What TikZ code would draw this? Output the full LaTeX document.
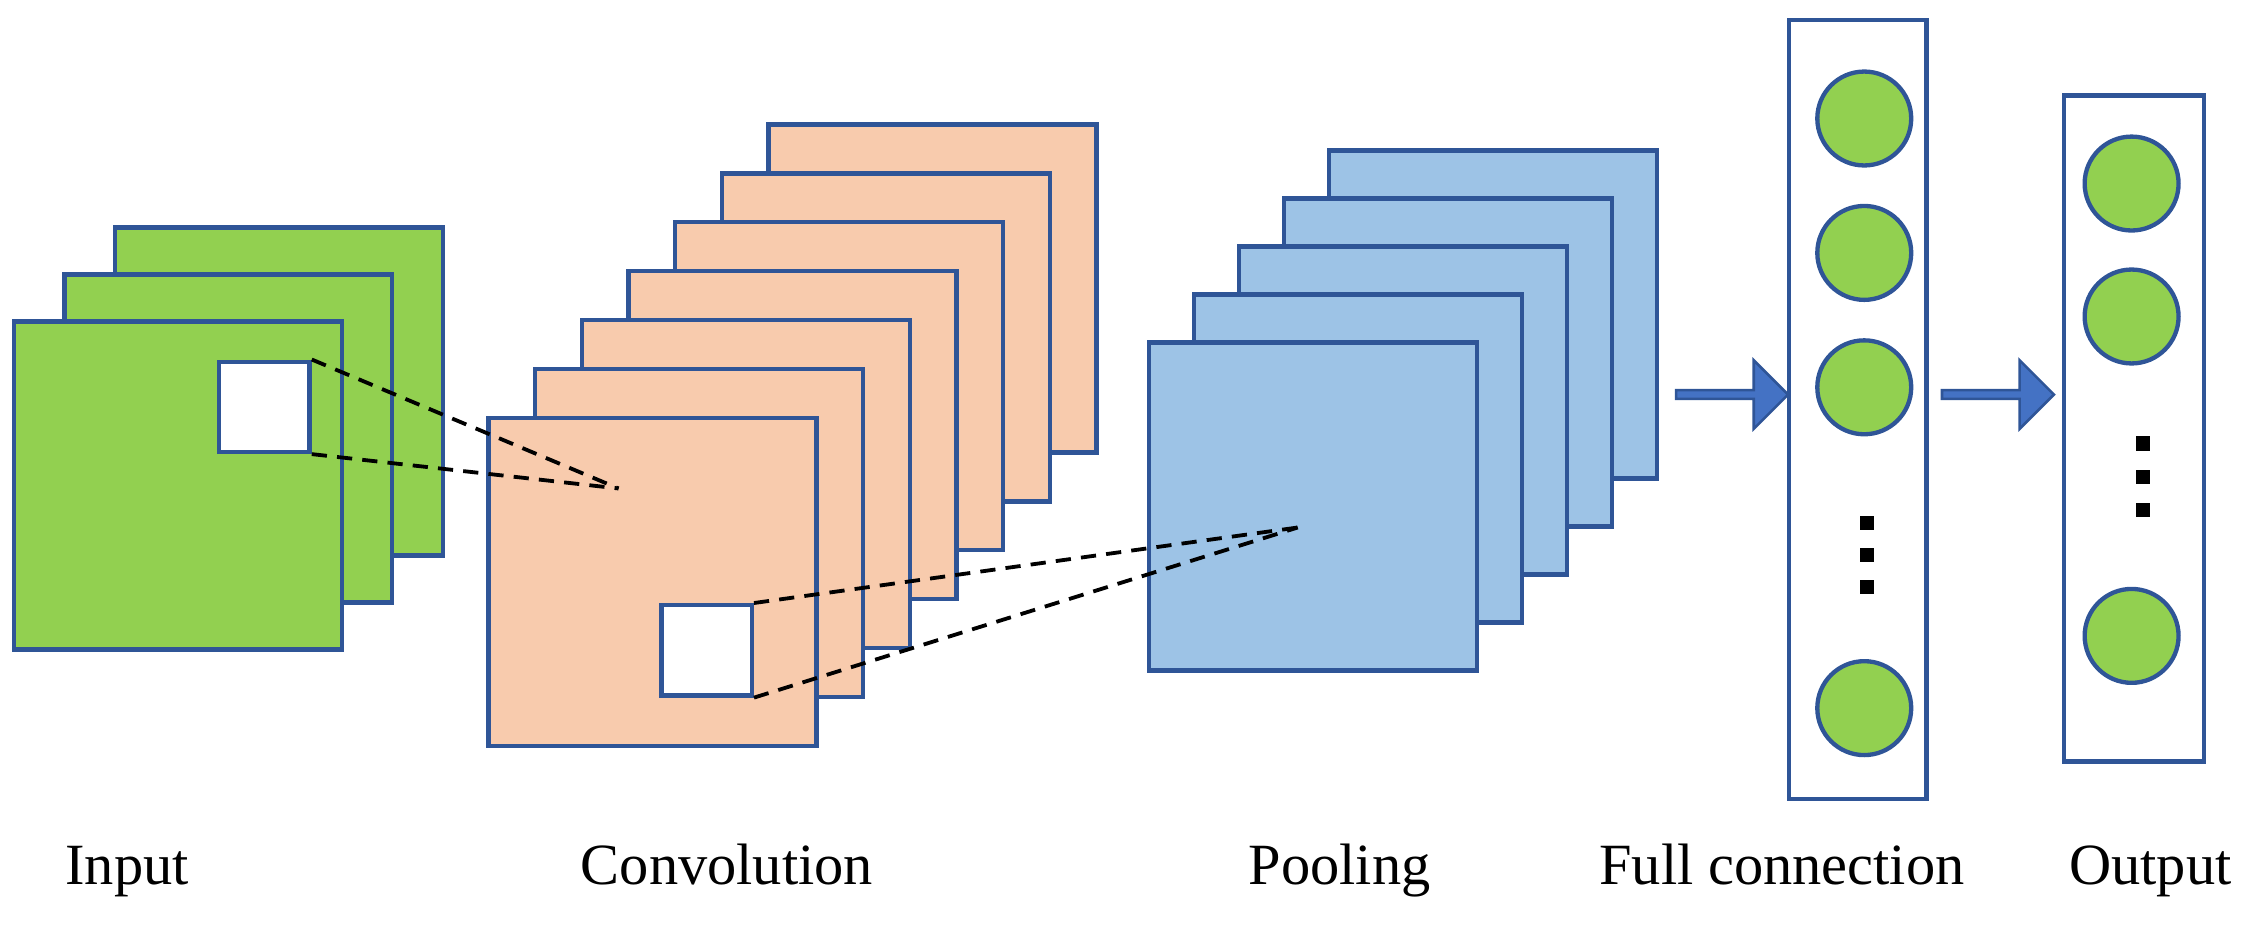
\documentclass[tikz,border=0pt]{standalone}
\usepackage{fontspec}
\setmainfont{Liberation Serif}
\usetikzlibrary{shapes.arrows}
\definecolor{edgeblue}{HTML}{2F5597}
\definecolor{ingreen}{HTML}{92D050}
\definecolor{convpeach}{HTML}{F8CBAD}
\definecolor{poolblue}{HTML}{9DC3E6}
\definecolor{arrowblue}{HTML}{4472C4}
\begin{document}
\begin{tikzpicture}[
    x=0.02cm, y=-0.02cm,
    fmap/.style={rectangle, draw=edgeblue, line width=1.7pt, minimum size=4.54cm, inner sep=0pt},
    win/.style={rectangle, draw=edgeblue, fill=white, line width=1.7pt, minimum size=1.25cm, inner sep=0pt},
    neuron/.style={circle, draw=edgeblue, fill=ingreen, line width=1.7pt, minimum size=1.3cm, inner sep=0pt},
    layer/.style={rectangle, draw=edgeblue, line width=1.7pt, inner sep=0pt},
    fwd/.style={single arrow, draw=edgeblue, fill=arrowblue, line width=1pt, minimum height=1.55cm, minimum width=0.95cm, single arrow head extend=0.12cm, inner sep=0pt},
    lab/.style={font=\fontsize{23}{26}\selectfont, anchor=base},
    rfield/.style={line width=1.5pt, dash pattern=on 6pt off 4pt}
]
\useasboundingbox (0,0) rectangle (1568,646);

% Input maps
\foreach \i in {2,1,0}
  \node[fmap, fill=ingreen] (in\i) at (123+35*\i, 336-32.5*\i) {};
\node[win] (inwin) at (183,281.5) {};

% Convolution maps
\foreach \i in {6,5,...,0}
  \node[fmap, fill=convpeach] (cv\i) at (451.5+32.3*\i, 402.5-33.8*\i) {};
\node[win] (cvwin) at (489,450) {};
\coordinate (cvpt) at (428,338);

% Pooling maps
\foreach \i in {4,3,...,0}
  \node[fmap, fill=poolblue] (pl\i) at (908.5+31.2*\i, 350.5-33.2*\i) {};
\coordinate (plpt) at (898,365);

% Receptive fields
\draw[rfield] (inwin.north east) -- (cvpt);
\draw[rfield] (inwin.south east) -- (cvpt);
\draw[rfield] (cvwin.north east) -- (plpt);
\draw[rfield] (cvwin.south east) -- (plpt);

% Full connection
\node[layer, minimum width=1.9cm, minimum height=10.78cm] (fc) at (1285.5,283.5) {};
\foreach \y [count=\k] in {82,175,268,490}
  \node[neuron] (fc\k) at (1290,\y) {};
\foreach \y in {362,384,406}
  \fill (1287,\y-5) rectangle (1297,\y+5);

% Output
\node[layer, minimum width=1.94cm, minimum height=9.22cm] (out) at (1476.5,296.5) {};
\foreach \y [count=\k] in {127,219,440}
  \node[neuron] (out\k) at (1475,\y) {};
\foreach \y in {307,330,353}
  \fill (1478,\y-5) rectangle (1488,\y+5);

% Arrows between layers
\node[fwd] (a1) at (1197,273) {};
\node[fwd] (a2) at (1381,273) {};

% Labels
\node[lab] (lin) at (88,612) {Input};
\node[lab] (lcv) at (503,612) {Convolution};
\node[lab] (lpl) at (927,612) {Pooling};
\node[lab] (lfc) at (1233,612) {Full connection};
\node[lab] (lout) at (1488,612) {Output};
\end{tikzpicture}
\end{document}
